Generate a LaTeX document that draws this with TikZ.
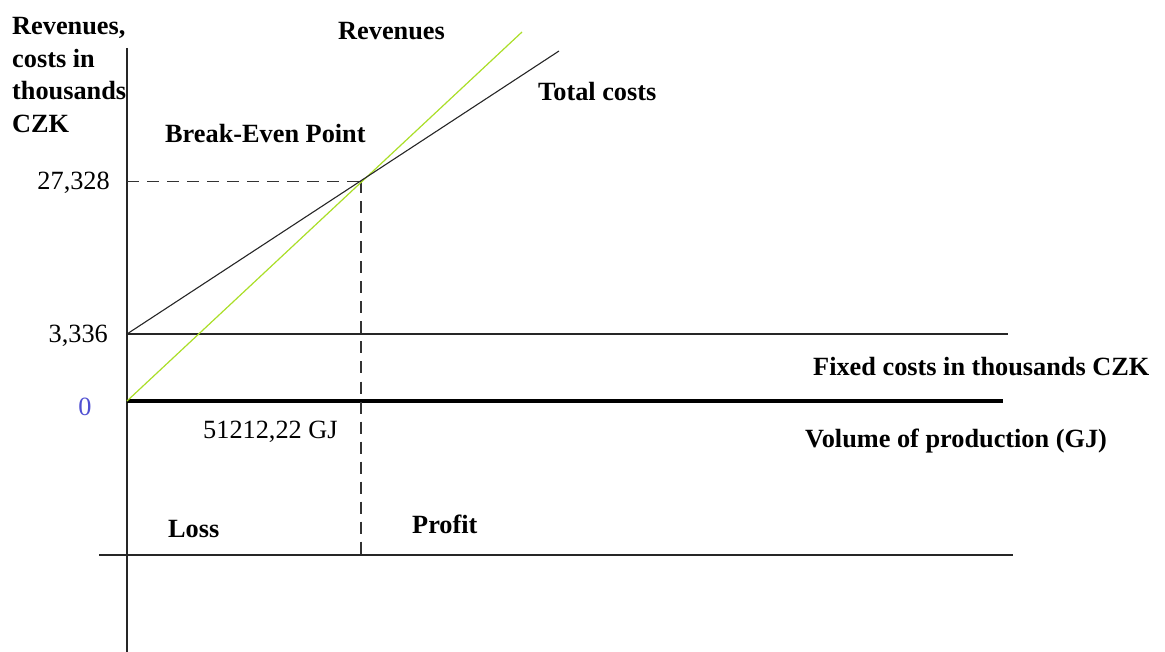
\documentclass[tikz,border=0pt]{standalone}
\usepackage{fontspec}
\setmainfont{Liberation Serif}
\definecolor{revgreen}{RGB}{170,222,40}
\definecolor{zeroblue}{RGB}{80,80,210}
\begin{document}
\begin{tikzpicture}[x=1pt,y=-1pt,
  lbl/.style={inner sep=0pt,font=\fontsize{26.3}{30}\selectfont\bfseries},
  num/.style={inner sep=0pt,font=\fontsize{26.3}{30}\selectfont},
  thinline/.style={line width=1.3pt,black!85},
  thickline/.style={line width=4pt,black},
  guide/.style={line width=1.3pt,black!80,dash pattern=on 12pt off 8pt},
  revline/.style={line width=1.2pt,revgreen},
  costline/.style={line width=1.1pt,black!85}]
\useasboundingbox (0,0) rectangle (1165,652);
% coordinates
\coordinate (axtop) at (127,48);
\coordinate (axbot) at (127,652);
\coordinate (fc0) at (127,334);
\coordinate (fc1) at (1008,334);
\coordinate (o) at (127,401);
\coordinate (x1) at (1003,401);
\coordinate (b0) at (99,555);
\coordinate (b1) at (1013,555);
\coordinate (bep) at (361,181.5);
\coordinate (bepy) at (127,181.5);
\coordinate (bepx) at (361,558);
\coordinate (tcend) at (559,51);
\coordinate (revend) at (522,32);
% lines
\draw[thinline] (axtop) -- (axbot);
\draw[thinline] (fc0) -- (fc1);
\draw[thickline] (o) -- (x1);
\draw[thinline] (b0) -- (b1);
\draw[guide] (bepy) -- (bep);
\draw[guide] (bep) -- (bepx);
\draw[revline] (o) -- (revend);
\draw[costline] (fc0) -- (tcend);
% texts
\node[lbl,anchor=base west] (yl1) at (12,35) {Revenues,};
\node[lbl,anchor=base west] (yl2) at (12,67.5) {costs in};
\node[lbl,anchor=base west] (yl3) at (12,100) {thousands};
\node[lbl,anchor=base west] (yl4) at (12,132.5) {CZK};
\node[lbl,anchor=base west] (bepl) at (165,143) {Break-Even Point};
\node[lbl,anchor=base west] (revl) at (338,40) {Revenues};
\node[lbl,anchor=base west] (tcl) at (538,101) {Total costs};
\node[num,anchor=base east] (v1) at (110,190) {27,328};
\node[num,anchor=base east] (v2) at (108,343) {3,336};
\node[num,anchor=base,text=zeroblue] (v0) at (85,415) {0};
\node[num,anchor=base west] (qx) at (203,438) {51212,22 GJ};
\node[lbl,anchor=base west] (fcl) at (813,375) {Fixed costs in thousands CZK};
\node[lbl,anchor=base west] (vol) at (805,447) {Volume of production (GJ)};
\node[lbl,anchor=base west] (loss) at (168,537) {Loss};
\node[lbl,anchor=base west] (prof) at (412,533) {Profit};
\end{tikzpicture}
\end{document}
